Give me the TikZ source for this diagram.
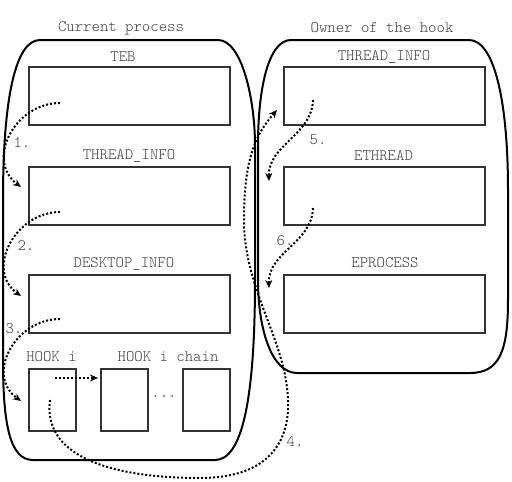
\documentclass[tikz,border=0pt]{standalone}
\usepackage{fontspec}
\setmonofont{Latin Modern Mono Light}
\usetikzlibrary{arrows,arrows.meta}
\tikzstyle{struct}=[rectangle,draw=black!80,line width=2pt,inner sep=0mm, minimum width=201pt, minimum height=58pt]
\tikzstyle{hook}=[rectangle,draw=black!80,line width=2pt,inner sep=0mm, minimum width=47pt, minimum height=62pt]
\tikzstyle{caption}=[font=\fontsize{16}{18}\selectfont\ttfamily,text=black!75,inner sep=0mm]
\tikzstyle{walk}=[-{Stealth[length=8pt,width=7pt]},dotted,line width=2pt]
\tikzstyle{process}=[draw=black,line width=2pt]

\begin{document}
\begin{tikzpicture}[x=1pt,y=-1pt]
    \useasboundingbox (0,0) rectangle (512,482);
    % the two processes
    \draw[process] (40,40) -- (218,40) .. controls (242,40) and (255,100) .. (255,145)
      -- (255,280) .. controls (255,400) and (242,460) .. (215,460) -- (33,460)
      .. controls (10,460) and (3,425) .. (3,360) -- (3,200)
      .. controls (3,100) and (15,40) .. (40,40) -- cycle;
    \draw[process] (291,40) -- (469,40) .. controls (494,40) and (508,100) .. (508,190)
      -- (508,300) .. controls (508,350) and (500,373) .. (470,373) -- (297,373)
      .. controls (272,373) and (258,330) .. (258,280) -- (258,145)
      .. controls (258,90) and (268,40) .. (291,40) -- cycle;
    \node[caption] (cur) at (121,28) {Current process};
    \node[caption] (own) at (382,28) {Owner of the hook};
    % current process
    \node[struct] at (129.5,96) (teb) {};
    \node[struct] at (129.5,196) (thrinfo) {};
    \node[struct] at (129.5,303.5) (deskinfo) {};
    \node[hook] at (52.5,400) (hooki) {};
    \node[hook] at (124.5,400) (hookc1) {};
    \node[hook] at (206.5,400) (hookc2) {};
    \node[caption] at (123,57) (tebl) {TEB};
    \node[caption] at (129,156) (thrinfol) {THREAD\_INFO};
    \node[caption] at (124,264) (deskinfol) {DESKTOP\_INFO};
    \node[caption] at (51.5,357) (hookil) {HOOK i};
    \node[caption] at (168,357) (hookcl) {HOOK i chain};
    \node[caption] at (164,397) (dots) {...};
    % owner of the hook
    \node[struct] at (384.5,96) (othrinfo) {};
    \node[struct] at (384.5,196) (ethread) {};
    \node[struct] at (384.5,304) (eprocess) {};
    \node[caption] at (384,57) (othrinfol) {THREAD\_INFO};
    \node[caption] at (383.5,156) (ethreadl) {ETHREAD};
    \node[caption] at (385,263) (eprocessl) {EPROCESS};
    % steps
    \coordinate (teb-out) at (60,103);
    \coordinate (thrinfo-in) at (21,187);
    \coordinate (thrinfo-out) at (60,212);
    \coordinate (deskinfo-in) at (21,296);
    \coordinate (deskinfo-out) at (60,319);
    \coordinate (hooki-in) at (21,401);
    \coordinate (hooki-out) at (50,400);
    \coordinate (hooki-next) at (55,378);
    \coordinate (hookc1-in) at (98,378);
    \coordinate (othrinfo-in) at (277,110);
    \coordinate (othrinfo-out) at (313,100);
    \coordinate (ethread-in) at (269,181);
    \coordinate (ethread-out) at (313,208);
    \coordinate (eprocess-in) at (269,288);
    \draw[walk] (teb-out) .. controls (15,103) and (-15,160) .. (thrinfo-in);
    \draw[walk] (thrinfo-out) .. controls (15,212) and (-15,270) .. (deskinfo-in);
    \draw[walk] (deskinfo-out) .. controls (15,319) and (-15,375) .. (hooki-in);
    \draw[walk] (hooki-next) -- (hookc1-in);
    \draw[walk] (hooki-out) .. controls (42,460) and (120,478) .. (200,478)
      .. controls (260,478) and (290,450) .. (288,400)
      .. controls (286,340) and (244,290) .. (244,220)
      .. controls (244,160) and (255,135) .. (othrinfo-in);
    \draw[walk] (othrinfo-out) .. controls (312,135) and (268,145) .. (ethread-in);
    \draw[walk] (ethread-out) .. controls (312,243) and (268,252) .. (eprocess-in);
    \node[caption] at (22,143) (s1) {1.};
    \node[caption] at (26,246) (s2) {2.};
    \node[caption] at (14,329) (s3) {3.};
    \node[caption] at (295,442) (s4) {4.};
    \node[caption] at (318,140) (s5) {5.};
    \node[caption] at (285,241) (s6) {6.};
\end{tikzpicture}
\end{document}
